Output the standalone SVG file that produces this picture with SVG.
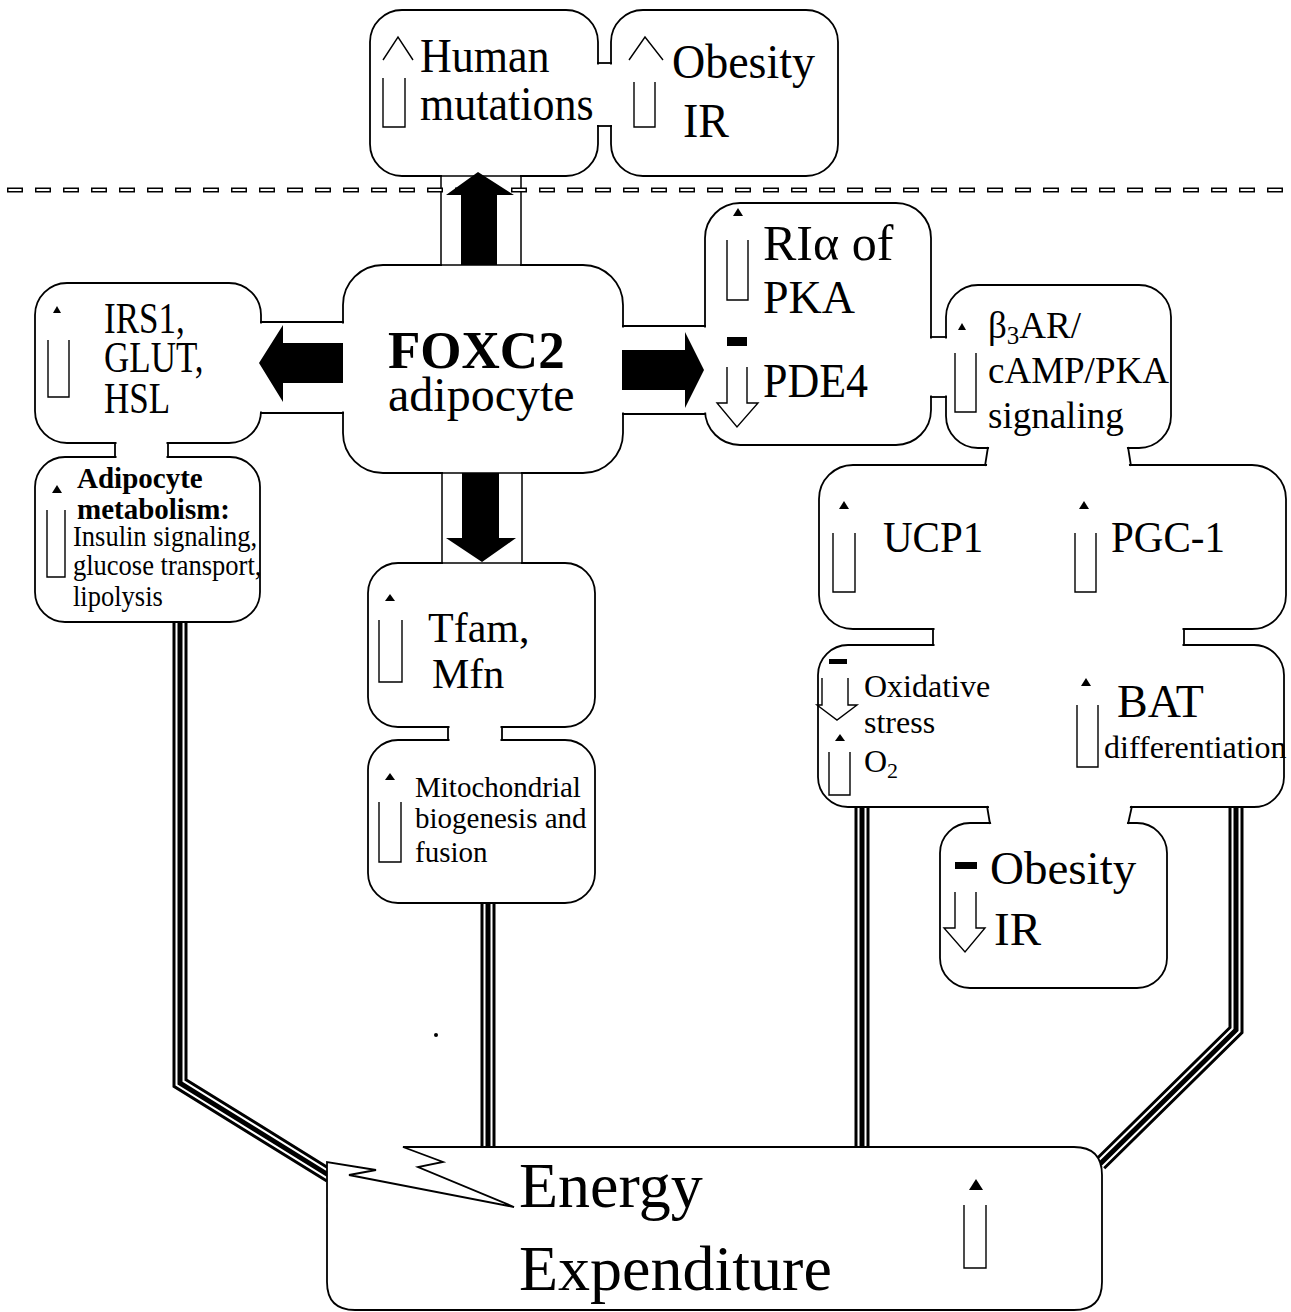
<svg xmlns="http://www.w3.org/2000/svg" width="1291" height="1312" viewBox="0 0 1291 1312">
<style>
.bx{fill:#fff;stroke:#000;stroke-width:1.8}
.cv{fill:#fff;stroke:none}
.nk{stroke:#000;stroke-width:1.8;fill:none}
.fr{fill:none;stroke:#000;stroke-width:1.5}
.ba{fill:#000;stroke:none}
.ar{fill:none;stroke:#000;stroke-width:1.4}
.ah{fill:#000;stroke:none}
.t{font-family:"Liberation Serif","Times New Roman",serif;fill:#000}
.b{font-weight:bold}
.c1{fill:none;stroke:#000;stroke-width:15;stroke-linejoin:miter}
.c2{fill:none;stroke:#fff;stroke-width:9;stroke-linejoin:miter}
.c3{fill:none;stroke:#000;stroke-width:5;stroke-linejoin:miter}
</style>
<rect width="1291" height="1312" fill="#fff"/>

<!-- connectors -->
<g id="connectors">
  <path class="c1" d="M180 622 V1083 L330 1176"/>
  <path class="c2" d="M180 622 V1083 L330 1176"/>
  <path class="c3" d="M180 622 V1083 L330 1176"/>
  <path class="c1" d="M488 903 V1148"/>
  <path class="c2" d="M488 903 V1148"/>
  <path class="c3" d="M488 903 V1148"/>
  <path class="c1" d="M862 807 V1148"/>
  <path class="c2" d="M862 807 V1148"/>
  <path class="c3" d="M862 807 V1148"/>
  <path class="c1" d="M1236 808 V1030 L1100 1164"/>
  <path class="c2" d="M1236 808 V1030 L1100 1164"/>
  <path class="c3" d="M1236 808 V1030 L1100 1164"/>
</g>

<!-- top boxes -->
<g id="human">
  <rect class="bx" x="370" y="10" width="228" height="166" rx="32"/>
  <polyline class="ar" points="383,60 398,37 413,60"/>
  <polyline class="ar" points="383,78 383,127 405,127 405,78"/>
  <text class="t" font-size="44" transform="translate(420 72) scale(1 1.08)">Human</text>
  <text class="t" font-size="44" transform="translate(420 120) scale(1 1.08)">mutations</text>
</g>
<g id="obesity-top">
  <rect class="bx" x="611" y="10" width="227" height="166" rx="32"/>
  <polyline class="ar" points="629,60 645,37 663,60"/>
  <polyline class="ar" points="634,82 634,127 655,127 655,82"/>
  <text class="t" font-size="46" transform="translate(672 78) scale(1 1.06)">Obesity</text>
  <text class="t" font-size="46" transform="translate(683 137) scale(1 1.06)">IR</text>
</g>
<g id="neck-top">
  <rect class="cv" x="595" y="64.5" width="19" height="60.5"/>
  <line class="nk" x1="597" y1="63" x2="612" y2="63"/>
  <line class="nk" x1="597" y1="126" x2="612" y2="126"/>
</g>

<!-- FOXC2 -->
<g id="foxc2">
  <rect class="bx" x="343" y="265" width="280" height="208" rx="40"/>
  <text class="t b" x="388" y="368" font-size="53">FOXC2</text>
  <text class="t" x="388" y="411" font-size="48">adipocyte</text>
</g>

<!-- IRS1 -->
<g id="irs1">
  <rect class="bx" x="35" y="283" width="226" height="160" rx="32"/>
  <polygon class="ah" points="53,313 57,306 61,313"/>
  <polyline class="ar" points="48,340 48,397 69,397 69,340"/>
  <text class="t" font-size="35" transform="translate(104 333) scale(1 1.28)">IRS1,</text>
  <text class="t" font-size="35" transform="translate(104 372) scale(1 1.28)">GLUT,</text>
  <text class="t" font-size="35" transform="translate(104 413) scale(1 1.28)">HSL</text>
</g>

<!-- Adipocyte metabolism -->
<g id="adipocyte-metabolism">
  <rect class="bx" x="35" y="457" width="225" height="165" rx="30"/>
  <polygon class="ah" points="52,493 57,485 62,493"/>
  <polyline class="ar" points="47,510 47,577 65,577 65,510"/>
  <text class="t b" x="77" y="488" font-size="29">Adipocyte</text>
  <text class="t b" x="77" y="519" font-size="29">metabolism:</text>
  <text class="t" font-size="26.5" transform="translate(73 546) scale(1 1.08)">Insulin signaling,</text>
  <text class="t" font-size="26.5" transform="translate(73 575) scale(1 1.08)">glucose transport,</text>
  <text class="t" font-size="26.5" transform="translate(73 606) scale(1 1.08)">lipolysis</text>
</g>

<!-- RIa / PDE4 -->
<g id="ria-pde4">
  <rect class="bx" x="705" y="203" width="226" height="242" rx="35"/>
  <polygon class="ah" points="733,216 738,208 743,216"/>
  <polyline class="ar" points="727,240 727,300 748,300 748,240"/>
  <rect class="ah" x="727" y="337" width="20" height="9"/>
  <polyline class="ar" points="727,367 727,403 717,403 737,427 758,403 747,403 747,367"/>
  <text class="t" x="763" y="260" font-size="50">RIα of</text>
  <text class="t" x="763" y="313" font-size="46">PKA</text>
  <text class="t" font-size="44" transform="translate(763 397) scale(1 1.08)">PDE4</text>
</g>

<!-- beta3AR -->
<g id="b3ar">
  <rect class="bx" x="946" y="285" width="225" height="163" rx="32"/>
  <polygon class="ah" points="958,330 962,323 966,330"/>
  <polyline class="ar" points="955,353 955,412 976,412 976,353"/>
  <text class="t" x="988" y="338" font-size="37">β<tspan font-size="25" dy="6">3</tspan><tspan dy="-6">AR/</tspan></text>
  <text class="t" x="988" y="383" font-size="37">cAMP/PKA</text>
  <text class="t" x="988" y="428" font-size="37">signaling</text>
</g>

<!-- UCP1 / PGC-1 -->
<g id="ucp1-pgc1">
  <rect class="bx" x="819" y="465" width="467" height="164" rx="34"/>
  <polygon class="ah" points="839,509 844,501 849,509"/>
  <polyline class="ar" points="833,533 833,592 855,592 855,533"/>
  <polygon class="ah" points="1079,509 1084,501 1089,509"/>
  <polyline class="ar" points="1075,533 1075,592 1096,592 1096,533"/>
  <text class="t" font-size="41" transform="translate(883 552) scale(1 1.08)">UCP1</text>
  <text class="t" font-size="41" transform="translate(1111 552) scale(1 1.08)">PGC-1</text>
</g>

<!-- Oxidative / BAT -->
<g id="oxidative-bat">
  <rect class="bx" x="818" y="645" width="466" height="162" rx="30"/>
  <rect class="ah" x="829" y="659" width="18" height="5"/>
  <polyline class="ar" points="822,678 822,705 817,705 837,720 857,705 848,705 848,678"/>
  <polygon class="ah" points="835,741 840,734 845,741"/>
  <polyline class="ar" points="829,752 829,795 850,795 850,752"/>
  <text class="t" x="864" y="697" font-size="32">Oxidative</text>
  <text class="t" x="864" y="733" font-size="32">stress</text>
  <text class="t" x="864" y="772" font-size="32">O<tspan font-size="22" dy="6">2</tspan></text>
  <polygon class="ah" points="1081,686 1086,678 1091,686"/>
  <polyline class="ar" points="1077,705 1077,767 1098,767 1098,705"/>
  <text class="t" x="1117" y="717" font-size="46">BAT</text>
  <text class="t" x="1104" y="758" font-size="32">differentiation</text>
</g>

<!-- Obesity IR bottom -->
<g id="obesity-bottom">
  <rect class="bx" x="940" y="823" width="227" height="165" rx="30"/>
  <rect class="ah" x="955" y="862" width="22" height="7"/>
  <polyline class="ar" points="955,892 955,928 944,928 965,952 985,928 976,928 976,892"/>
  <text class="t" x="990" y="884" font-size="47">Obesity</text>
  <text class="t" x="994" y="945" font-size="47">IR</text>
</g>

<!-- Tfam -->
<g id="tfam">
  <rect class="bx" x="368" y="563" width="227" height="164" rx="30"/>
  <polygon class="ah" points="385,601 390,594 395,601"/>
  <polyline class="ar" points="379,620 379,682 402,682 402,620"/>
  <text class="t" x="428" y="642" font-size="42">Tfam,</text>
  <text class="t" x="432" y="688" font-size="42">Mfn</text>
</g>

<!-- Mitochondrial -->
<g id="mito">
  <rect class="bx" x="368" y="740" width="227" height="163" rx="30"/>
  <polygon class="ah" points="385,780 390,773 395,780"/>
  <polyline class="ar" points="379,802 379,862 401,862 401,802"/>
  <text class="t" x="415" y="797" font-size="29">Mitochondrial</text>
  <text class="t" x="415" y="828" font-size="29">biogenesis and</text>
  <text class="t" x="415" y="862" font-size="29">fusion</text>
</g>

<!-- Energy expenditure -->
<g id="energy">
  <path class="bx" d="M403 1147 H1074 Q1102 1147 1102 1175 V1282 Q1102 1310 1074 1310 H355 Q327 1310 327 1282 V1162 L376 1170 L349 1175 L514 1207 L418 1167 L443 1162 Z"/>
  <polygon class="ah" points="969,1190 976,1179 983,1190"/>
  <polyline class="ar" points="964,1205 964,1268 986,1268 986,1205"/>
  <text class="t" x="519" y="1207" font-size="64">Energy</text>
  <text class="t" x="519" y="1290" font-size="64">Expenditure</text>
</g>

<!-- necks between boxes -->
<g id="necks">
  <rect class="cv" x="258" y="323.5" width="88" height="88"/>
  <line class="nk" x1="260" y1="322" x2="344" y2="322"/>
  <line class="nk" x1="260" y1="413" x2="344" y2="413"/>
  <rect class="cv" x="620" y="327.5" width="88" height="85"/>
  <line class="nk" x1="622" y1="326" x2="706" y2="326"/>
  <line class="nk" x1="622" y1="414" x2="706" y2="414"/>
  <rect class="cv" x="928" y="338.5" width="21" height="57"/>
  <line class="nk" x1="930" y1="337" x2="947" y2="337"/>
  <line class="nk" x1="930" y1="397" x2="947" y2="397"/>
  <polygon class="cv" points="989.5,444 1126.5,444 1129.5,469 986.5,469"/>
  <line class="nk" x1="988" y1="447" x2="985" y2="466"/>
  <line class="nk" x1="1128" y1="447" x2="1131" y2="466"/>
  <rect class="cv" x="934.5" y="626" width="248" height="22"/>
  <line class="nk" x1="933" y1="628" x2="933" y2="646"/>
  <line class="nk" x1="1184" y1="628" x2="1184" y2="646"/>
  <polygon class="cv" points="988.5,804 1130.5,804 1126.5,826 991.5,826"/>
  <line class="nk" x1="987" y1="806" x2="990" y2="824"/>
  <line class="nk" x1="1132" y1="806" x2="1128" y2="824"/>
  <rect class="cv" x="116.5" y="440" width="50" height="20"/>
  <line class="nk" x1="115" y1="442" x2="115" y2="458"/>
  <line class="nk" x1="168" y1="442" x2="168" y2="458"/>
  <rect class="cv" x="449.5" y="724" width="51" height="19"/>
  <line class="nk" x1="448" y1="726" x2="448" y2="741"/>
  <line class="nk" x1="502" y1="726" x2="502" y2="741"/>
  <rect class="cv" x="442" y="174" width="78" height="93"/>
  <rect class="fr" x="441" y="176" width="80" height="89"/>
  <rect class="cv" x="443" y="471" width="78" height="94"/>
  <rect class="fr" x="442" y="473" width="80" height="90"/>
</g>

<!-- dashed boundary -->
<g id="boundary">
  <line x1="7" y1="190" x2="1291" y2="190" stroke="#000" stroke-width="5" stroke-dasharray="16 12"/>
  <line x1="7" y1="190" x2="1291" y2="190" stroke="#fff" stroke-width="2" stroke-dasharray="13 15" stroke-dashoffset="-1.5"/>
</g>

<!-- block arrows from FOXC2 -->
<g id="block-arrows">
  <polygon class="ba" points="461,265 461,195 446,195 478,172 514,195 497,195 497,265"/>
  <polygon class="ba" points="343,343 283,343 283,325 259,363 283,402 283,383 343,383"/>
  <polygon class="ba" points="622,350 685,350 685,332 704,370 685,408 685,390 622,390"/>
  <polygon class="ba" points="462,473 462,538 446,538 482,562 516,538 499,538 499,473"/>
</g>

<circle cx="436" cy="1035" r="2" fill="#000"/>
</svg>
